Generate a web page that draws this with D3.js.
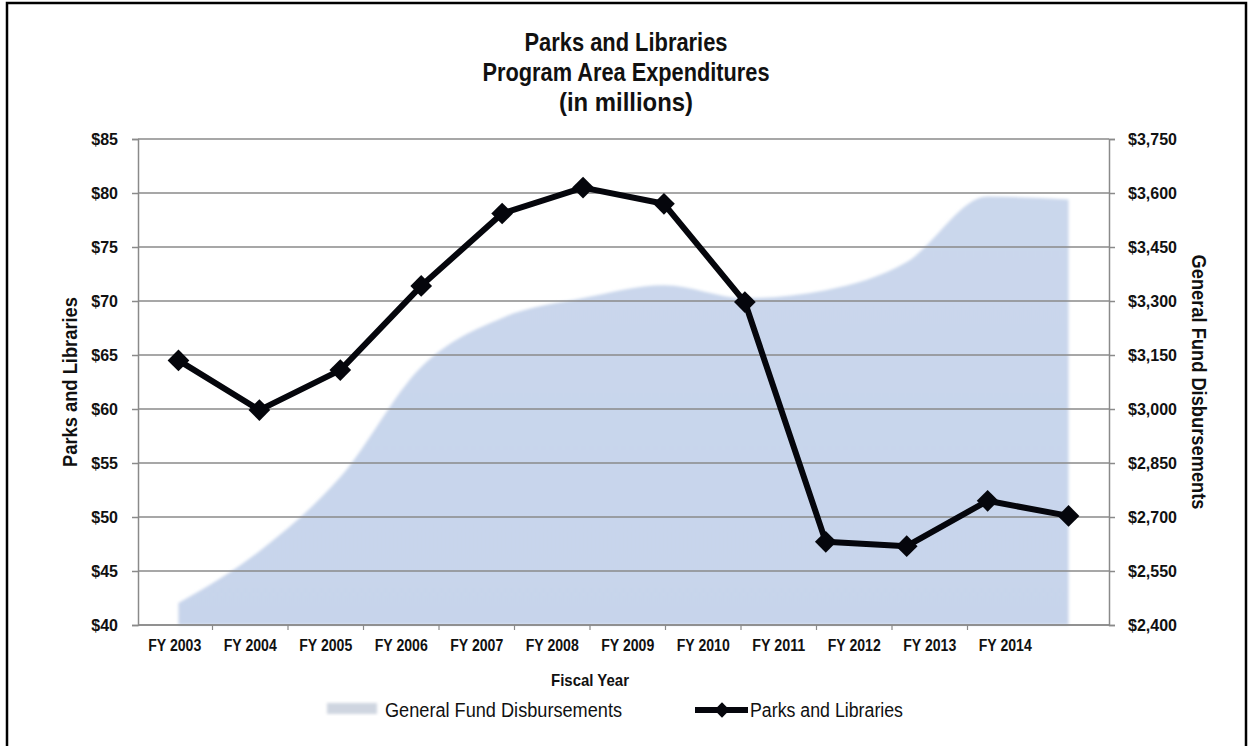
<!DOCTYPE html>
<html>
<head>
<meta charset="utf-8">
<script src="https://cdn.jsdelivr.net/npm/d3@7"></script>
<style>
  html, body { margin: 0; padding: 0; background: #fff; }
  svg { display: block; }
  text { font-family: "Liberation Sans", Arial, sans-serif; fill: #111; }
</style>
</head>
<body>
<svg id="chart" width="1252" height="746"></svg>
<script>
const years = ["FY 2003","FY 2004","FY 2005","FY 2006","FY 2007","FY 2008","FY 2009","FY 2010","FY 2011","FY 2012","FY 2013","FY 2014"];
const parksLibraries = [64.5, 59.9, 63.6, 71.4, 78.1, 80.5, 79.0, 69.9, 47.7, 47.3, 51.5, 50.1];
const generalFund = [2461, 2605, 2811, 3117, 3253, 3308, 3344, 3308, 3330, 3408, 3590, 3582];
const leftTicks = [40, 45, 50, 55, 60, 65, 70, 75, 80, 85];
const rightTicks = [2400, 2550, 2700, 2850, 3000, 3150, 3300, 3450, 3600, 3750];
const titleLines = ["Parks and Libraries", "Program Area Expenditures", "(in millions)"];
const titleWidths = [203, 287, 134];

const svg = d3.select("#chart");
const plot = {left: 138, right: 1109, top: 139, bottom: 625};

const x = d3.scaleBand().domain(years).range([plot.left, plot.right]);
const xLabel = d3.scaleBand().domain(years).range([137, 1043]);
const yL = d3.scaleLinear().domain([40, 85]).range([plot.bottom, plot.top]);
const yR = d3.scaleLinear().domain([2400, 3750]).range([plot.bottom, plot.top]);
const cx = d => x(d) + x.bandwidth() / 2;

// outer border
svg.append("rect").attr("x", 7).attr("y", 3).attr("width", 1239).attr("height", 748)
  .attr("fill", "none").attr("stroke", "#000").attr("stroke-width", 2.5);

const defs = svg.append("defs");
const grad = defs.append("linearGradient").attr("id", "areaGrad").attr("x1", 0).attr("y1", 0).attr("x2", 0).attr("y2", 1);
grad.append("stop").attr("offset", "0%").attr("stop-color", "#cad7ec");
grad.append("stop").attr("offset", "100%").attr("stop-color", "#c7d4eb");
defs.append("filter").attr("id", "blur").append("feGaussianBlur").attr("stdDeviation", 1.5);

// area
const area = d3.area()
  .x((d, i) => cx(years[i]))
  .y0(plot.bottom)
  .y1(d => yR(d))
  .curve(d3.curveMonotoneX);
svg.append("path").datum(generalFund).attr("d", area)
  .attr("fill", "url(#areaGrad)").attr("filter", "url(#blur)");

// gridlines
svg.append("g").selectAll("line").data(leftTicks).join("line")
  .attr("x1", plot.left).attr("x2", plot.right)
  .attr("y1", d => yL(d)).attr("y2", d => yL(d))
  .attr("stroke", "#8a8a8a").attr("stroke-width", 1.5);

// left axis
const axL = svg.append("g").attr("transform", `translate(${plot.left},0)`)
  .call(d3.axisLeft(yL).tickValues(leftTicks).tickSize(6).tickPadding(14).tickFormat(d => "$" + d));
axL.select(".domain").attr("stroke", "#8a8a8a").attr("stroke-width", 1.5);
axL.selectAll(".tick line").attr("stroke", "#8a8a8a").attr("stroke-width", 1.5);
axL.selectAll("text").attr("font-size", 16).attr("font-weight", "bold").style("fill", "#111")
  .style("font-family", "'Liberation Sans', Arial, sans-serif");

// right axis
const axR = svg.append("g").attr("transform", `translate(${plot.right},0)`)
  .call(d3.axisRight(yR).tickValues(rightTicks).tickSize(6).tickPadding(13).tickFormat(d => "$" + d3.format(",")(d)));
axR.select(".domain").attr("stroke", "#8a8a8a").attr("stroke-width", 1.5);
axR.selectAll(".tick line").attr("stroke", "#8a8a8a").attr("stroke-width", 1.5);
axR.selectAll("text").attr("font-size", 16).attr("font-weight", "bold").style("fill", "#111")
  .style("font-family", "'Liberation Sans', Arial, sans-serif");

// x axis
svg.append("line").attr("x1", plot.left).attr("x2", plot.right)
  .attr("y1", plot.bottom).attr("y2", plot.bottom)
  .attr("stroke", "#8a8a8a").attr("stroke-width", 1.5);
const axX = svg.append("g").attr("transform", `translate(0,${plot.bottom})`)
  .call(d3.axisBottom(xLabel).tickSize(0).tickPadding(15));
axX.select(".domain").remove();
axX.selectAll("text").attr("font-size", 16).attr("font-weight", "bold").style("fill", "#111")
  .attr("textLength", 53).attr("lengthAdjust", "spacingAndGlyphs")
  .style("font-family", "'Liberation Sans', Arial, sans-serif");
svg.append("g").selectAll("line").data(years.slice(1)).join("line")
  .attr("x1", d => xLabel(d)).attr("x2", d => xLabel(d))
  .attr("y1", plot.bottom).attr("y2", plot.bottom + 5)
  .attr("stroke", "#8a8a8a").attr("stroke-width", 1.2);

// line series
const line = d3.line().x((d, i) => cx(years[i])).y(d => yL(d));
svg.append("path").datum(parksLibraries).attr("d", line)
  .attr("fill", "none").attr("stroke", "#05060c").attr("stroke-width", 6).attr("stroke-linejoin", "round");
const diamond = d3.symbol().type(d3.symbolDiamond2).size(300);
svg.append("g").selectAll("path").data(parksLibraries).join("path")
  .attr("d", diamond)
  .attr("transform", (d, i) => `translate(${cx(years[i])},${yL(d)})`)
  .attr("fill", "#05060c");

// title
svg.append("g").selectAll("text").data(titleLines).join("text")
  .attr("x", 626).attr("y", (d, i) => 51 + i * 30)
  .attr("text-anchor", "middle").attr("font-size", 25).attr("font-weight", "bold")
  .attr("textLength", (d, i) => titleWidths[i]).attr("lengthAdjust", "spacingAndGlyphs")
  .text(d => d);

// axis titles
svg.append("text").attr("transform", "translate(77,382) rotate(-90)")
  .attr("text-anchor", "middle").attr("font-size", 21).attr("font-weight", "bold")
  .attr("textLength", 170).attr("lengthAdjust", "spacingAndGlyphs")
  .text("Parks and Libraries");
svg.append("text").attr("transform", "translate(1192,382) rotate(90)")
  .attr("text-anchor", "middle").attr("font-size", 21).attr("font-weight", "bold")
  .attr("textLength", 255).attr("lengthAdjust", "spacingAndGlyphs")
  .text("General Fund Disbursements");
svg.append("text").attr("x", 590).attr("y", 686)
  .attr("text-anchor", "middle").attr("font-size", 17).attr("font-weight", "bold")
  .attr("textLength", 78).attr("lengthAdjust", "spacingAndGlyphs")
  .text("Fiscal Year");

// legend
const lg = svg.append("g");
lg.append("rect").attr("x", 327).attr("y", 703).attr("width", 50).attr("height", 11)
  .attr("fill", "#cfd5e0").attr("filter", "url(#blur)");
lg.append("text").attr("x", 385).attr("y", 717).attr("font-size", 20)
  .attr("textLength", 237).attr("lengthAdjust", "spacingAndGlyphs")
  .text("General Fund Disbursements");
lg.append("line").attr("x1", 695).attr("x2", 748).attr("y1", 710).attr("y2", 710)
  .attr("stroke", "#05060c").attr("stroke-width", 6);
lg.append("path").attr("d", d3.symbol().type(d3.symbolDiamond2).size(150))
  .attr("transform", "translate(722,710)").attr("fill", "#05060c");
lg.append("text").attr("x", 750).attr("y", 717).attr("font-size", 20)
  .attr("textLength", 153).attr("lengthAdjust", "spacingAndGlyphs")
  .text("Parks and Libraries");
</script>
</body>
</html>
